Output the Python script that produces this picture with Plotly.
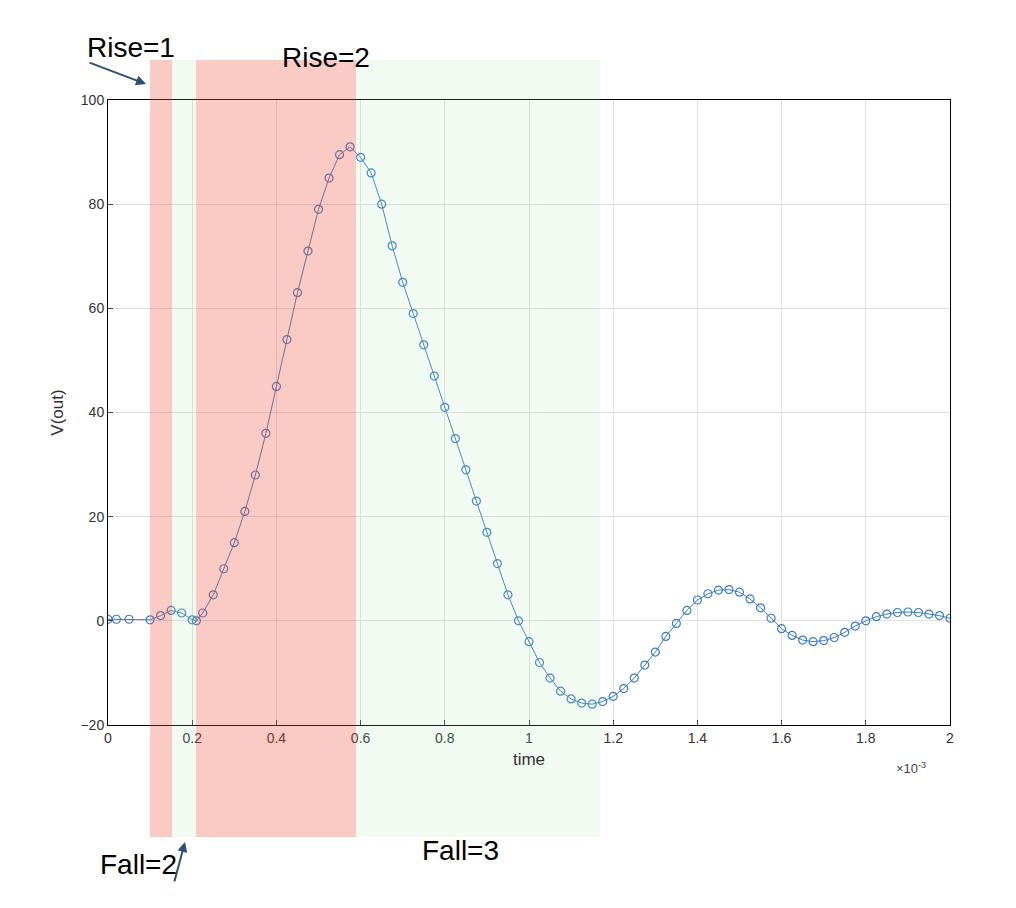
import plotly.graph_objects as go

# time in units of 1e-3 s
t = [0, 0.02, 0.05, 0.1, 0.125, 0.15, 0.175, 0.2, 0.21, 0.225, 0.25, 0.275, 0.3, 0.325,
     0.35, 0.375, 0.4, 0.425, 0.45, 0.475, 0.5, 0.525, 0.55, 0.575, 0.6, 0.625, 0.65,
     0.675, 0.7, 0.725, 0.75, 0.775, 0.8, 0.825, 0.85, 0.875, 0.9, 0.925, 0.95, 0.975,
     1.0, 1.025, 1.05, 1.075, 1.1, 1.125, 1.15, 1.175, 1.2, 1.225, 1.25, 1.275, 1.3,
     1.325, 1.35, 1.375, 1.4, 1.425, 1.45, 1.475, 1.5, 1.525, 1.55, 1.575, 1.6, 1.625,
     1.65, 1.675, 1.7, 1.725, 1.75, 1.775, 1.8, 1.825, 1.85, 1.875, 1.9, 1.925, 1.95,
     1.975, 2.0]
v = [0.3, 0.3, 0.3, 0.2, 1, 2, 1.5, 0.2, 0, 1.5, 5, 10, 15, 21,
     28, 36, 45, 54, 63, 71, 79, 85, 89.5, 91, 89, 86, 80,
     72, 65, 59, 53, 47, 41, 35, 29, 23, 17, 11, 5, 0,
     -4, -8, -11, -13.5, -15, -15.8, -16, -15.5, -14.5, -13, -11, -8.5, -6,
     -3, -0.5, 2, 4, 5.2, 5.9, 6, 5.5, 4.2, 2.5, 0.5, -1.5, -2.8,
     -3.7, -4, -3.8, -3.2, -2.2, -1, 0, 0.8, 1.3, 1.6, 1.7, 1.6, 1.3,
     1.0, 0.5]

# shaded regions: start, end, colour
regions = [(0.1, 0.152, "rgba(240,80,60,0.3)"),
           (0.152, 0.209, "rgba(160,225,170,0.15)"),
           (0.209, 0.589, "rgba(240,80,60,0.3)"),
           (0.589, 1.169, "rgba(160,225,170,0.15)")]

W, H = 1016, 908
L, R, T, B = 100, 74, 92, 191
pw, ph = W - L - R, H - T - B

# positions below are measured in the reference image; the page adds ~8px offset
def px(x):
    return (x - 8 - L) / pw

def py(y):
    return (H - B - (y - 8)) / ph

fig = go.Figure()
fig.add_trace(go.Scatter(
    x=t, y=v, mode="lines+markers",
    line=dict(color="#3d7cc4", width=1),
    marker=dict(symbol="circle-open", size=8, color="#3d7cc4", line=dict(width=1.2)),
    showlegend=False
))

for x0, x1, c in regions:
    fig.add_shape(type="rect", xref="x", yref="paper", x0=x0, x1=x1,
                  y0=py(837), y1=py(60), fillcolor=c, line_width=0, layer="above")

labels = [("Rise=1", 85, 30), ("Rise=2", 280, 40), ("Fall=2", 98, 882), ("Fall=3", 460, 868)]
for txt, x, y in labels:
    fig.add_annotation(text=txt, xref="paper", yref="paper", x=px(x), y=py(y),
                       showarrow=False, font=dict(size=28, color="black"))

for (x0, y0, x1, y1) in [(88, 62, 146, 84), (174, 883, 185, 842)]:
    fig.add_annotation(xref="paper", yref="paper", axref="pixel", ayref="pixel",
                       x=px(x1), y=py(y1), ax=x0 - x1, ay=y0 - y1, text="",
                       showarrow=True, arrowhead=2, arrowsize=1, arrowwidth=2,
                       arrowcolor="#2f4f6f")

fig.add_annotation(text="×10<sup>-3</sup>", xref="paper", yref="paper", x=px(928), y=py(778),
                   showarrow=False, font=dict(size=13, color="#444"))

fig.update_layout(
    width=W, height=H, margin=dict(l=L, r=R, t=T, b=B),
    paper_bgcolor="white", plot_bgcolor="white",
    font=dict(family="Liberation Sans, Arial", size=14, color="#333"),
    xaxis=dict(range=[0, 2], dtick=0.2, showgrid=True, gridcolor="#e0e0e0",
               showline=True, linecolor="black", mirror=True, ticks="inside",
               title=dict(text="time", standoff=8), zeroline=False),
    yaxis=dict(range=[-20, 100], dtick=20, showgrid=True, gridcolor="#e0e0e0",
               showline=True, linecolor="black", mirror=True, ticks="inside",
               title=dict(text="V(out)", standoff=12), zeroline=False),
)

fig.write_html("out.html")
